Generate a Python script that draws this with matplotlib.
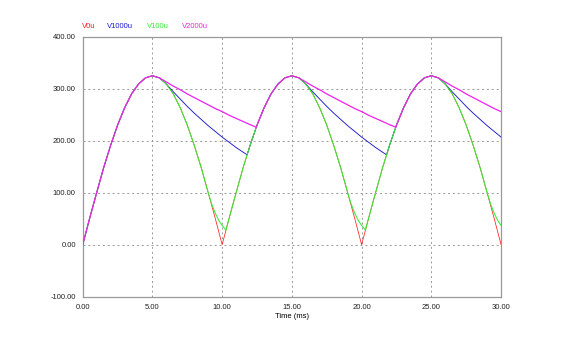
import matplotlib
matplotlib.use("Agg")
import matplotlib.pyplot as plt

# Time axis (ms) and voltages (V), one list pair per curve
t_v0u = [0.0, 0.5, 1.0, 1.5, 2.0, 2.5, 3.0, 3.5, 4.0, 4.5, 5.0, 5.5, 6.0, 6.5, 7.0, 7.5, 8.0, 8.5, 9.0, 9.5,
         10.0, 10.5, 11.0, 11.5, 12.0, 12.5, 13.0, 13.5, 14.0, 14.5, 15.0, 15.5, 16.0, 16.5, 17.0, 17.5, 18.0, 18.5, 19.0, 19.5,
         20.0, 20.5, 21.0, 21.5, 22.0, 22.5, 23.0, 23.5, 24.0, 24.5, 25.0, 25.5, 26.0, 26.5, 27.0, 27.5, 28.0, 28.5, 29.0, 29.5,
         30.0]
v0u = [0, 51, 100, 148, 191, 230, 263, 290, 309, 321, 325, 321, 309, 290, 263, 230, 191, 148, 100, 51,
       0, 51, 100, 148, 191, 230, 263, 290, 309, 321, 325, 321, 309, 290, 263, 230, 191, 148, 100, 51,
       0, 51, 100, 148, 191, 230, 263, 290, 309, 321, 325, 321, 309, 290, 263, 230, 191, 148, 100, 51,
       0]

t_v1000u = [0.0, 0.5, 1.0, 1.5, 2.0, 2.5, 3.0, 3.5, 4.0, 4.5, 5.0, 5.5, 6.0, 6.5, 7.0, 7.5, 8.0, 8.5, 9.0, 9.5,
            10.0, 10.5, 11.0, 11.5, 11.79, 12.0, 12.5, 13.0, 13.5, 14.0, 14.5, 15.0, 15.5, 16.0, 16.5, 17.0, 17.5, 18.0, 18.5, 19.0, 19.5,
            20.0, 20.5, 21.0, 21.5, 21.79, 22.0, 22.5, 23.0, 23.5, 24.0, 24.5, 25.0, 25.5, 26.0, 26.5, 27.0, 27.5, 28.0, 28.5, 29.0, 29.5,
            30.0]
v1000u = [0, 51, 100, 148, 191, 230, 263, 290, 309, 321, 325, 321, 309, 294, 280, 266, 253, 241, 229, 218,
          207, 197, 187, 178, 173, 191, 230, 263, 290, 309, 321, 325, 321, 309, 294, 280, 266, 253, 241, 229, 218,
          207, 197, 187, 178, 173, 191, 230, 263, 290, 309, 321, 325, 321, 309, 294, 280, 266, 253, 241, 229, 218,
          207]

t_v100u = [0.0, 0.5, 1.0, 1.5, 2.0, 2.5, 3.0, 3.5, 4.0, 4.5, 5.0, 5.5, 6.0, 6.5, 7.0, 7.5, 8.0, 8.5, 9.0, 9.25, 9.5, 9.75,
           10.0, 10.27, 10.5, 11.0, 11.5, 12.0, 12.5, 13.0, 13.5, 14.0, 14.5, 15.0, 15.5, 16.0, 16.5, 17.0, 17.5, 18.0, 18.5, 19.0, 19.25, 19.5, 19.75,
           20.0, 20.27, 20.5, 21.0, 21.5, 22.0, 22.5, 23.0, 23.5, 24.0, 24.5, 25.0, 25.5, 26.0, 26.5, 27.0, 27.5, 28.0, 28.5, 29.0, 29.25, 29.5, 29.75,
           30.0]
v100u = [0, 51, 100, 148, 191, 230, 263, 290, 309, 321, 325, 321, 309, 290, 263, 230, 191, 148, 100, 78, 61, 47,
         37, 28, 51, 100, 148, 191, 230, 263, 290, 309, 321, 325, 321, 309, 290, 263, 230, 191, 148, 100, 78, 61, 47,
         37, 28, 51, 100, 148, 191, 230, 263, 290, 309, 321, 325, 321, 309, 290, 263, 230, 191, 148, 100, 78, 61, 47,
         37]

t_v2000u = [0.0, 0.5, 1.0, 1.5, 2.0, 2.5, 3.0, 3.5, 4.0, 4.5, 5.0, 5.5, 6.0, 6.5, 7.0, 7.5, 8.0, 8.5, 9.0, 9.5,
            10.0, 10.5, 11.0, 11.5, 12.0, 12.45, 12.5, 13.0, 13.5, 14.0, 14.5, 15.0, 15.5, 16.0, 16.5, 17.0, 17.5, 18.0, 18.5, 19.0, 19.5,
            20.0, 20.5, 21.0, 21.5, 22.0, 22.45, 22.5, 23.0, 23.5, 24.0, 24.5, 25.0, 25.5, 26.0, 26.5, 27.0, 27.5, 28.0, 28.5, 29.0, 29.5,
            30.0]
v2000u = [0, 51, 100, 148, 191, 230, 263, 290, 309, 321, 325, 321, 313, 305, 298, 290, 283, 276, 269, 262,
          256, 249, 243, 237, 231, 226, 230, 263, 290, 309, 321, 325, 321, 313, 305, 298, 290, 283, 276, 269, 262,
          256, 249, 243, 237, 231, 226, 230, 263, 290, 309, 321, 325, 321, 313, 305, 298, 290, 283, 276, 269, 262,
          256]

series = [
    ("V0u", t_v0u, v0u, "#ff2020"),
    ("V1000u", t_v1000u, v1000u, "#1a1acc"),
    ("V100u", t_v100u, v100u, "#33ee33"),
    ("V2000u", t_v2000u, v2000u, "#ee22ee"),
]

x_ticks = [0, 5, 10, 15, 20, 25, 30]
y_ticks = [-100, 0, 100, 200, 300, 400]

plt.rcParams['font.family'] = ['Liberation Sans', 'DejaVu Sans']

fig = plt.figure(figsize=(5.72, 3.57), dpi=100)
ax = fig.add_axes([0.1446, 0.169, 0.7314, 0.728])

# draw in legend order so V2000u ends up on top like in the original;
# each later trace a bit wider so it hides the ones below where they overlap
widths = [0.55, 0.65, 0.75, 0.9]
for i, ((name, t, v, col), w) in enumerate(zip(series, widths)):
    ax.plot(t, v, color=col, lw=w, zorder=3 + i)

ax.set_xlim(0, 30)
ax.set_ylim(-100, 400)
ax.set_xticks(x_ticks)
ax.set_yticks(y_ticks)
ax.set_xticklabels([f"{x:.2f}" for x in x_ticks])
ax.set_yticklabels([f"{y:.2f}" for y in y_ticks])
ax.tick_params(length=0, labelsize=5.5, pad=5, colors="#222222")
ax.grid(True, color="#999999", ls=(0, (2, 3)), lw=0.7)
for s in ax.spines.values():
    s.set_color("#999999")
    s.set_linewidth(0.9)
ax.set_xlabel("Time (ms)", fontsize=5.5, labelpad=2)

# legend is just coloured names above the plot
legend_x = [82, 107, 147, 182]
for (name, t, v, col), lx in zip(series, legend_x):
    fig.text(lx / 572, 1 - 27 / 357, name, color=col, fontsize=5.5, va="center", ha="left")

fig.savefig("out.png", dpi=100)
